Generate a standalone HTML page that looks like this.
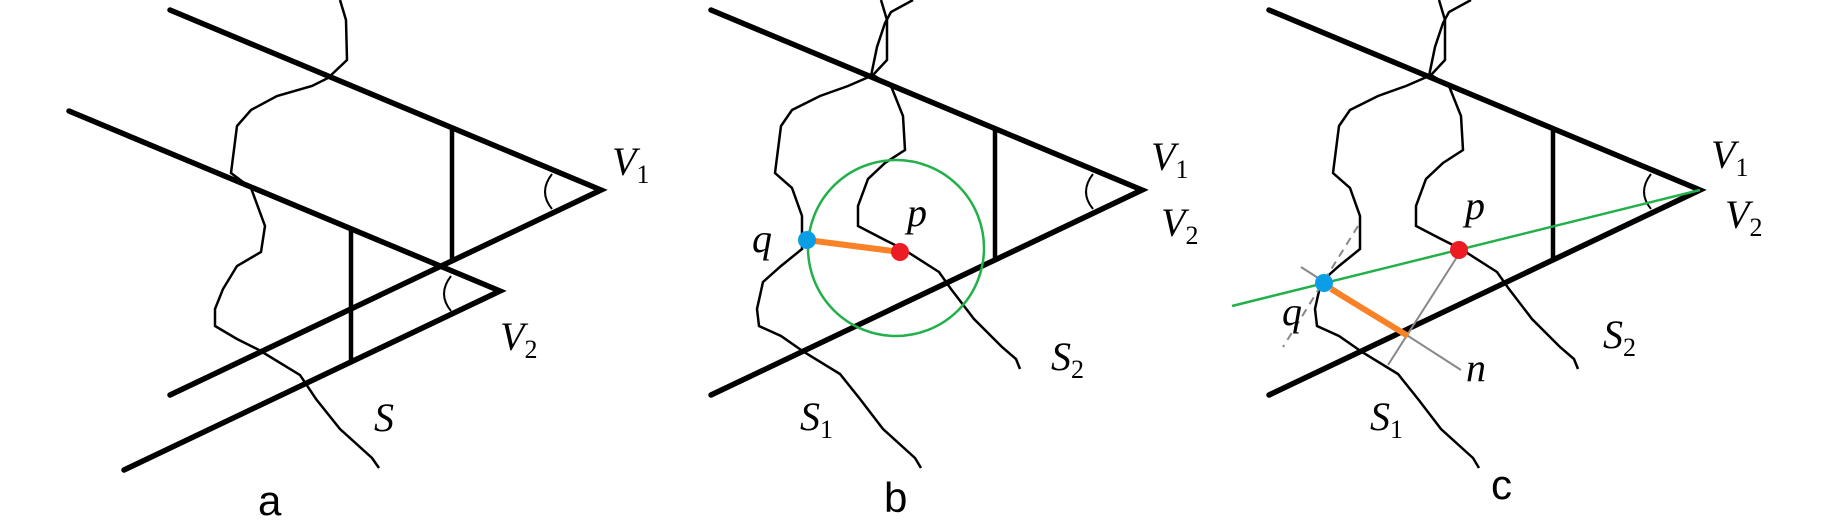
<!DOCTYPE html>
<html><head><meta charset="utf-8">
<style>
html,body{margin:0;padding:0;background:#fff;}
svg{display:block;}
.m{font-family:"Liberation Serif",serif;font-style:italic;font-size:40px;fill:#000;}
.sub{font-family:"Liberation Serif",serif;font-size:26px;font-style:normal;}
.lbl{font-family:"Liberation Sans",sans-serif;font-size:42px;fill:#000;}
</style></head>
<body>
<svg width="1843" height="521" viewBox="0 0 1843 521" xmlns="http://www.w3.org/2000/svg">
<defs>
  <g id="curves" fill="none" stroke="#000" stroke-width="2.5">
    <polyline points="1471,0 1449,12 1443,23 1435,47 1429,76 1406,86 1378,96 1350,110 1339,126 1333,173 1350,188 1360,216 1360,249 1339,266 1321,282 1315,309 1317,326 1339,336 1362,352 1398,374 1418,399 1441,429 1473,458 1479,468"/>
    <polyline points="1439,0 1445,20 1445,60 1431,75 1449,86 1461,116 1463,150 1443,163 1426,179 1416,206 1416,226 1441,239 1461,249 1497,272 1509,289 1532,319 1560,347 1574,359 1578,369"/>
  </g>
  <g id="wedge" fill="none" stroke="#000">
    <polyline points="1269,10 1700,190 1269,395" stroke-width="5.5" stroke-linecap="round" stroke-linejoin="miter"/>
    <line x1="1553" y1="130" x2="1553" y2="261" stroke-width="4.5"/>
    <path d="M1651,174 Q1637,192 1651,209" stroke-width="2"/>
  </g>
</defs>

<!-- Panel a -->
<g>
  <polyline fill="none" stroke="#000" stroke-width="2.5" points="340,0 346,20 347,60 328,78 312,86 277,96 251,110 237,126 231,173 251,188 265,226 261,252 237,266 223,289 215,309 215,326 237,339 259,350 300,375 316,399 340,429 372,458 379,468"/>
  <polyline fill="none" stroke="#000" stroke-width="5.5" stroke-linecap="round" points="170,10 601,190 170,395"/>
  <polyline fill="none" stroke="#000" stroke-width="5.5" stroke-linecap="round" points="69,111 500,291 124,470"/>
  <line x1="452" y1="130" x2="452" y2="259" stroke="#000" stroke-width="4.5"/>
  <line x1="351" y1="229" x2="351" y2="362" stroke="#000" stroke-width="4.5"/>
  <path d="M552,174 Q538,192 552,209" fill="none" stroke="#000" stroke-width="2"/>
  <path d="M451,276 Q437,294 451,311" fill="none" stroke="#000" stroke-width="2"/>
  <text class="m" x="612" y="175">V<tspan class="sub" dy="8">1</tspan></text>
  <text class="m" x="500" y="350">V<tspan class="sub" dy="8">2</tspan></text>
  <text class="m" x="374" y="431">S</text>
  <text class="lbl" x="258" y="515">a</text>
</g>

<!-- Panel b -->
<g>
  <g transform="translate(-558,0)">
    <use href="#curves"/>
    <use href="#wedge"/>
  </g>
  <circle cx="896" cy="248" r="88" fill="none" stroke="#22b04b" stroke-width="2.5"/>
  <line x1="807" y1="240" x2="900" y2="252" stroke="#f98126" stroke-width="6"/>
  <circle cx="807" cy="240" r="9" fill="#0b9ee6"/>
  <circle cx="900" cy="252" r="9" fill="#ed1c24"/>
  <text class="m" x="752" y="252">q</text>
  <text class="m" x="907" y="226">p</text>
  <text class="m" x="1151" y="170">V<tspan class="sub" dy="8">1</tspan></text>
  <text class="m" x="1161" y="236">V<tspan class="sub" dy="8">2</tspan></text>
  <text class="m" x="1051" y="370">S<tspan class="sub" dy="8">2</tspan></text>
  <text class="m" x="800" y="430">S<tspan class="sub" dy="8">1</tspan></text>
  <text class="lbl" x="884" y="512">b</text>
</g>

<!-- Panel c -->
<g>
  <use href="#curves"/>
  <use href="#wedge"/>
  <line x1="1358" y1="226" x2="1283" y2="347" stroke="#888" stroke-width="2" stroke-dasharray="8,6"/>
  <line x1="1301" y1="267" x2="1461" y2="370" stroke="#888" stroke-width="2"/>
  <line x1="1457" y1="257" x2="1388" y2="365" stroke="#888" stroke-width="2"/>
  <line x1="1232" y1="306" x2="1700" y2="190" stroke="#22b04b" stroke-width="2.5"/>
  <line x1="1331" y1="289" x2="1408" y2="336" stroke="#f98126" stroke-width="6"/>
  <circle cx="1324" cy="283" r="9" fill="#0b9ee6"/>
  <circle cx="1459" cy="250" r="9" fill="#ed1c24"/>
  <text class="m" x="1282" y="325">q</text>
  <text class="m" x="1465" y="219">p</text>
  <text class="m" x="1466" y="381">n</text>
  <text class="m" x="1711" y="168">V<tspan class="sub" dy="8">1</tspan></text>
  <text class="m" x="1725" y="228">V<tspan class="sub" dy="8">2</tspan></text>
  <text class="m" x="1603" y="348">S<tspan class="sub" dy="8">2</tspan></text>
  <text class="m" x="1370" y="430">S<tspan class="sub" dy="8">1</tspan></text>
  <text class="lbl" x="1491" y="499">c</text>
</g>
</svg>
</body></html>
